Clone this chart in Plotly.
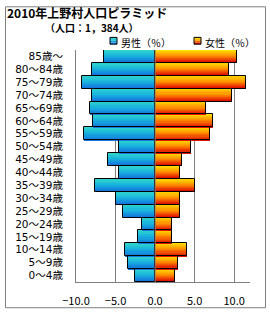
import plotly.graph_objects as go

# ---- data (top row first) ----
age_groups = ["85歳～", "80～84歳", "75～79歳", "70～74歳", "65～69歳", "60～64歳",
              "55～59歳", "50～54歳", "45～49歳", "40～44歳", "35～39歳", "30～34歳",
              "25～29歳", "20～24歳", "15～19歳", "10～14歳", "5～9歳", "0～4歳"]
male_pct = [6.4, 8.0, 9.3, 8.0, 8.2, 7.9, 9.0, 4.6, 5.9, 4.6, 7.6, 4.9, 4.1, 1.6, 2.2, 3.8, 3.4, 2.6]
female_pct = [10.3, 9.4, 11.5, 9.7, 6.4, 7.3, 6.9, 4.5, 3.4, 3.2, 5.0, 3.2, 3.2, 2.2, 2.2, 4.0, 2.9, 2.5]
x_tickvals = [-10, -5, 0, 5, 10]
title_text = "2010年上野村人口ピラミッド"
subtitle_text = "（人口：1，384人）"
male_name = "男性（％）"
female_name = "女性（％）"

# ---- style ----
FONT = "Noto Sans CJK JP"
LABEL_FONT = "DejaVu Sans, Noto Sans CJK JP"
W_, H_ = 270, 320
L, R, T, B = 76, 20, 50, 31
PW, PH = W_ - L - R, H_ - T - B


def px(x):
    return (x - L) / PW


def py(y):
    return (H_ - B - y) / PH


def lerp(c1, c2, t):
    return tuple(round(a + (b - a) * t) for a, b in zip(c1, c2))


def grad(stops, n):
    out = []
    for i in range(n):
        t = i / (n - 1)
        seg = min(int(t * (len(stops) - 1)), len(stops) - 2)
        lt = t * (len(stops) - 1) - seg
        c = lerp(stops[seg], stops[seg + 1], lt)
        out.append("rgb(%d,%d,%d)" % c)
    return out


N = 12
male_cols = grad([(48, 214, 204), (24, 178, 222), (20, 120, 222)], N)
female_cols = grad([(255, 220, 0), (255, 140, 0), (225, 20, 0)], N)

male_x = [-v for v in male_pct]

fig = go.Figure()
for vals, cols in ((male_x, male_cols), (female_pct, female_cols)):
    for i in range(N):
        fig.add_trace(go.Bar(
            y=age_groups, x=vals, orientation="h",
            width=1.0 / N, offset=-0.5 + i / N,
            marker=dict(color=cols[i], line=dict(width=0)),
            showlegend=False, hoverinfo="skip"))
    fig.add_trace(go.Bar(
        y=age_groups, x=vals, orientation="h",
        width=1.0, offset=-0.5,
        marker=dict(color="rgba(0,0,0,0)", line=dict(color="black", width=1)),
        showlegend=False, hoverinfo="skip"))

shapes = [
    # zero line above bars
    dict(type="line", xref="x", yref="paper", x0=0, x1=0, y0=0, y1=1,
         line=dict(color="#808080", width=1), layer="above"),
    # chart border
    dict(type="rect", xref="paper", yref="paper",
         x0=px(5.5), x1=px(265.5), y0=py(315.5), y1=py(5.5),
         line=dict(color="#808080", width=1)),
]

# legend swatches
for x0, cols in ((110, male_cols), (194, female_cols)):
    y0, size = 37, 7
    k = 4
    for j in range(k):
        c = cols[int(j * (N - 1) / (k - 1))]
        shapes.append(dict(type="rect", xref="paper", yref="paper",
                           x0=px(x0), x1=px(x0 + size),
                           y0=py(y0 + size * (j + 1) / k), y1=py(y0 + size * j / k),
                           line=dict(width=0), fillcolor=c))
    shapes.append(dict(type="rect", xref="paper", yref="paper",
                       x0=px(x0), x1=px(x0 + size), y0=py(y0 + size), y1=py(y0),
                       line=dict(color="black", width=1)))

annotations = [
    dict(text="<b>%s</b>" % title_text, x=px(6), y=py(11), xref="paper", yref="paper",
         xanchor="left", yanchor="middle", showarrow=False, borderpad=0,
         font=dict(family=FONT, size=12, color="black")),
    dict(text="<b>%s</b>" % subtitle_text, x=px(44), y=py(27.2), xref="paper", yref="paper",
         xanchor="left", yanchor="middle", showarrow=False, borderpad=0,
         font=dict(family=FONT, size=10, color="black")),
    dict(text=male_name, x=px(119.5), y=py(41.8), xref="paper", yref="paper",
         xanchor="left", yanchor="middle", showarrow=False, borderpad=0,
         font=dict(family=FONT, size=10, color="black")),
    dict(text=female_name, x=px(203.5), y=py(41.8), xref="paper", yref="paper",
         xanchor="left", yanchor="middle", showarrow=False, borderpad=0,
         font=dict(family=FONT, size=10, color="black")),
]

fig.update_layout(
    width=W_, height=H_,
    margin=dict(l=L, r=R, t=T, b=B, pad=0),
    paper_bgcolor="white", plot_bgcolor="white",
    barmode="overlay", bargap=0,
    showlegend=False,
    shapes=shapes, annotations=annotations,
    font=dict(family=FONT, color="black"),
    xaxis=dict(range=[-10, 12], tickvals=x_tickvals, tickformat=".1f",
               showgrid=True, gridcolor="#808080", gridwidth=1,
               zeroline=False, showline=True, linecolor="#808080", linewidth=1,
               ticks="outside", ticklen=9, tickcolor="rgba(0,0,0,0)",
               tickfont=dict(family=FONT, size=11, color="black"), fixedrange=True),
    yaxis=dict(type="category", autorange="reversed", showgrid=False, zeroline=False,
               tickmode="array", tickvals=age_groups, ticktext=age_groups,
               showline=True, linecolor="#808080", linewidth=1, ticks="",
               ticklabelstandoff=10,
               tickfont=dict(family=LABEL_FONT, size=10.5, color="black"), fixedrange=True),
)

fig.write_html("out.html")
